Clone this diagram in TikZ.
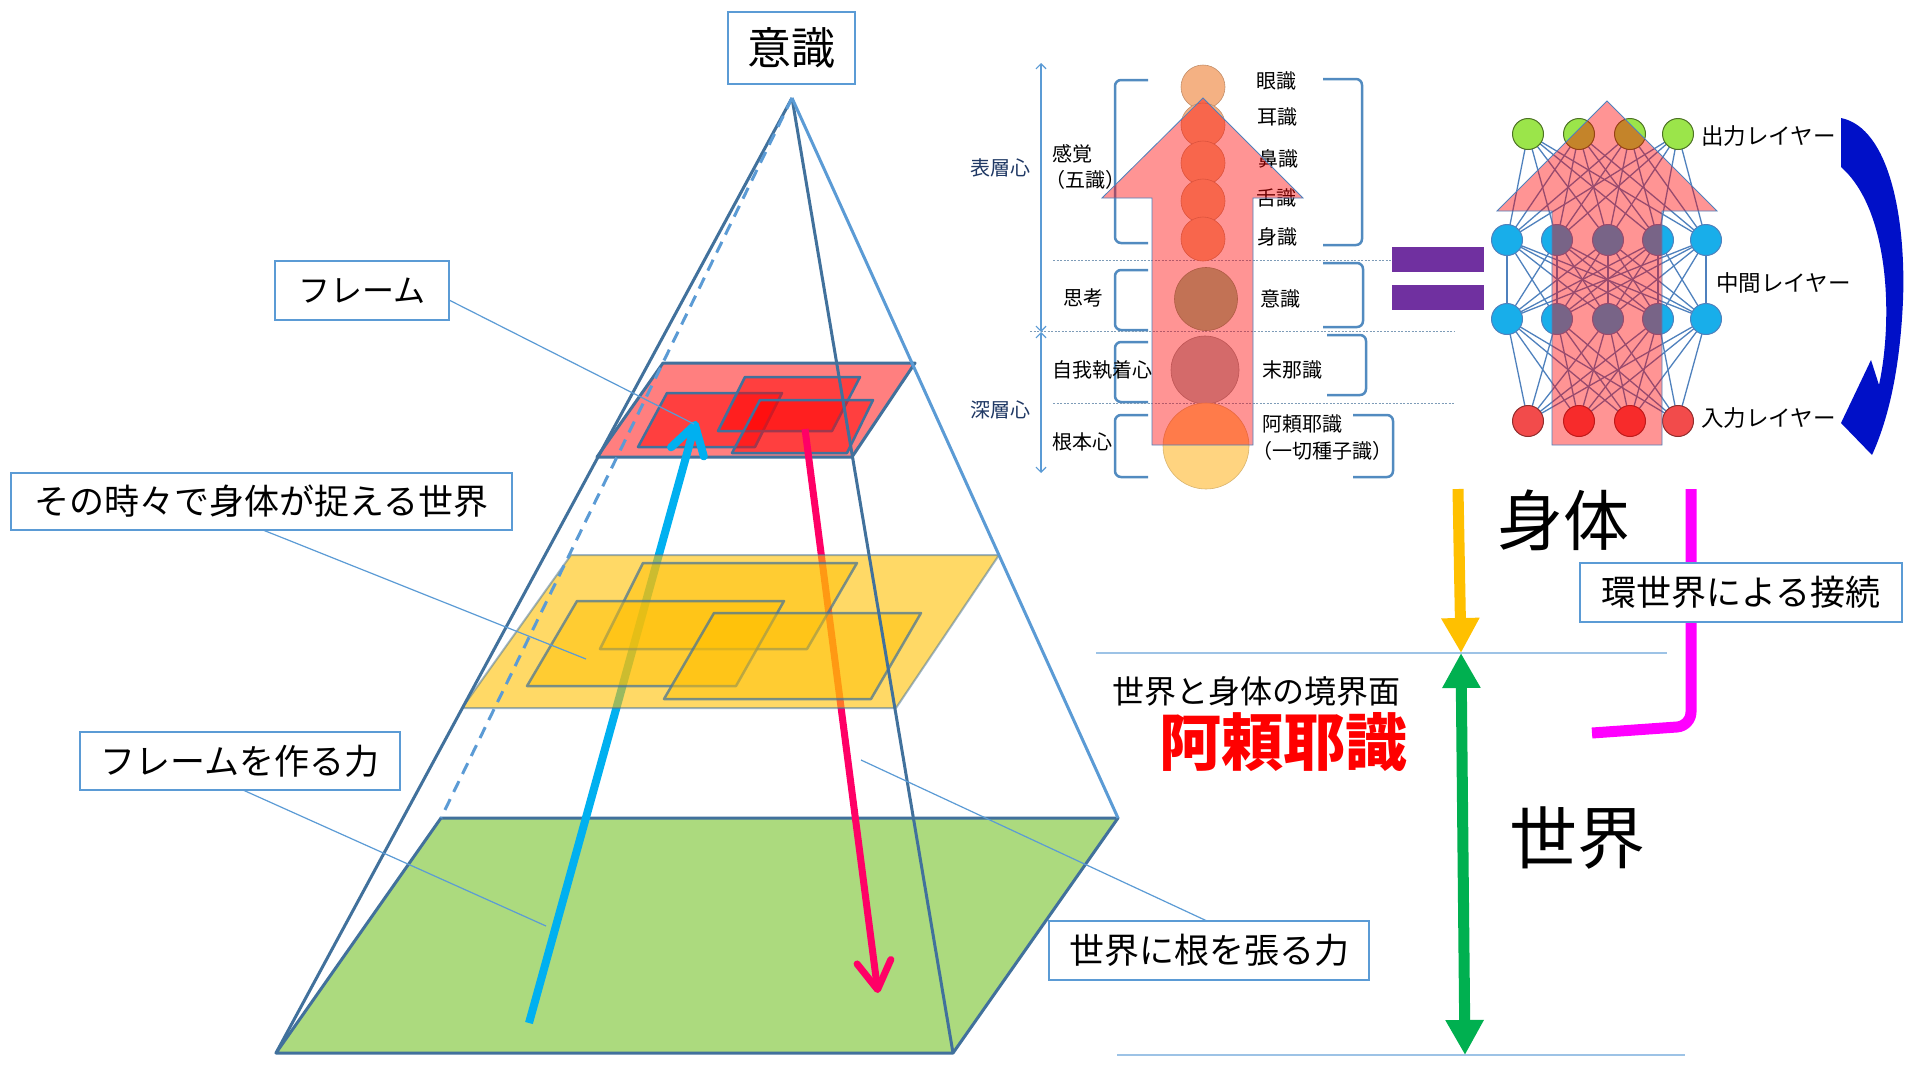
\documentclass[tikz,border=0pt]{standalone}
\usepackage{fontspec}
\setmainfont{Noto Sans CJK JP}
\usetikzlibrary{arrows.meta}

\definecolor{edgeblue}{HTML}{41719C}
\definecolor{lightblue}{HTML}{5B9BD5}
\definecolor{paleblue}{HTML}{9DC3E6}
\definecolor{planegreen}{HTML}{ACDA7E}
\definecolor{planeyellow}{HTML}{FFC000}
\definecolor{riseblue}{HTML}{00B0F0}
\definecolor{rootpink}{HTML}{FF0066}
\definecolor{worldgreen}{HTML}{00B050}
\definecolor{umwelt}{HTML}{FF00FF}
\definecolor{eqpurple}{HTML}{7030A0}
\definecolor{navy}{HTML}{1F3864}
\definecolor{netblue}{HTML}{4F81BD}
\definecolor{curvblue}{HTML}{0010C8}
\definecolor{sensepeach}{HTML}{F4B183}
\definecolor{thinkgreen}{HTML}{96C594}
\definecolor{egogrey}{HTML}{B5B7B7}
\definecolor{rootyellow}{HTML}{FFD480}
\definecolor{outgreen}{HTML}{9BE54A}
\definecolor{hidcyan}{HTML}{18AEEA}
\definecolor{inred}{HTML}{F24B4B}

\tikzset{
  txt/.style={font=\fontsize{#1}{#1}\selectfont},
  callout/.style={draw=lightblue, line width=2, fill=white, inner sep=0pt, txt=#1},
  leader/.style={draw=lightblue, line width=1.2},
  plane/.style={draw=edgeblue, line width=3, line join=round},
  edge/.style={draw=edgeblue, line width=3},
  lbl/.style={inner sep=0pt, anchor=west, txt=20},
  bracket/.style={draw=lightblue!90!black, line width=2.5, rounded corners=6},
  dotline/.style={draw=paleblue!80!black, line width=0.9, dash pattern=on 2pt off 1.5pt},
  flow/.style={fill=red, fill opacity=0.42, draw=netblue, line width=0.8},
  sense/.style={circle, inner sep=0pt, minimum size=#1, line width=0.6},
  neuron/.style={circle, inner sep=0pt, minimum size=31, line width=1},
  netedge/.style={draw=netblue, line width=1.3},
}

\begin{document}
\begin{tikzpicture}[x=1pt,y=-1pt]
\useasboundingbox (0,0) rectangle (1920,1080);
\fill[white] (0,0) rectangle (1920,1080);

% pyramid corners
\coordinate (apex) at (792,98);
\coordinate (gbl) at (276,1053);
\coordinate (gbr) at (953,1053);
\coordinate (gtr) at (1118,818);
\coordinate (gtl) at (441,818);

\filldraw[plane, fill=planegreen] (gbl) -- (gbr) -- (gtr) -- (gtl) -- cycle;

% frame plane
\filldraw[plane, fill=red, fill opacity=0.5] (597,457) -- (852,457) -- (915,363) -- (663,363) -- cycle;
\filldraw[plane, line width=2.5, fill=red, fill opacity=0.5] (638,447) -- (755,447) -- (782,393) -- (667,393) -- cycle;
\filldraw[plane, line width=2.5, fill=red, fill opacity=0.5] (718,431) -- (832,431) -- (860,377) -- (745,377) -- cycle;
\filldraw[plane, line width=2.5, fill=red, fill opacity=0.5] (732,453) -- (847,453) -- (873,400) -- (760,400) -- cycle;

% the two forces
\coordinate (riseTail) at (529,1023);
\coordinate (riseTip) at (696,421);
\coordinate (rootTail) at (805,429);
\coordinate (rootTip) at (878,993);
\draw[riseblue, line width=8, -{Straight Barb[length=28pt,width=34pt,round]}] (riseTail) -- (riseTip);
\draw[rootpink, line width=7, -{Straight Barb[length=28pt,width=34pt,round]}] (rootTail) -- (rootTip);

% world the body grasps
\filldraw[plane, line width=2, draw opacity=0.5, fill=planeyellow, fill opacity=0.6] (462,708) -- (896,708) -- (999,555) -- (571,555) -- cycle;
\filldraw[plane, line width=2.5, draw opacity=0.7, fill=planeyellow, fill opacity=0.5] (600,649) -- (807,649) -- (857,563) -- (643,563) -- cycle;
\filldraw[plane, line width=2.5, draw opacity=0.7, fill=planeyellow, fill opacity=0.5] (527,686) -- (736,686) -- (784,601) -- (577,601) -- cycle;
\filldraw[plane, line width=2.5, draw opacity=0.7, fill=planeyellow, fill opacity=0.5] (664,699) -- (871,699) -- (921,613) -- (714,613) -- cycle;

\draw[edge] (apex) -- (gbl);
\draw[edge] (apex) -- (gbr);
\draw[edge, lightblue] (apex) -- (gtr);
\draw[edge, lightblue, dash pattern=on 12pt off 8pt] (apex) -- (gtl);

% callouts
\node[callout=44, minimum width=127, minimum height=72] (conscious) at (791.5,48) {意識};

\coordinate (frameEnd) at (694,424);
\draw[leader] (449,300) -- (frameEnd);
\node[callout=32, minimum width=174, minimum height=59] (frame) at (362,290.5) {フレーム};

\coordinate (graspEnd) at (586,659);
\draw[leader] (263,530) -- (graspEnd);
\node[callout=35, minimum width=501, minimum height=57] (grasp) at (261.5,501.5) {その時々で身体が捉える世界};

\coordinate (makeEnd) at (546,926);
\draw[leader] (243,790) -- (makeEnd);
\node[callout=35, minimum width=320, minimum height=58] (makeframe) at (240,761) {フレームを作る力};

\coordinate (rootingEnd) at (861,760);
\draw[leader] (1207,921) -- (rootingEnd);
\node[callout=35, minimum width=320, minimum height=59] (rooting) at (1209,950.5) {世界に根を張る力};

% body / world
\draw[paleblue, line width=1.3] (1096,653) -- (1667,653);
\draw[paleblue, line width=1.3] (1117,1055) -- (1685,1055);
\coordinate (bodyTop) at (1458,489);
\coordinate (iface) at (1461,653);
\coordinate (worldBot) at (1465,1055);
\draw[planeyellow, line width=11, -{Triangle[length=35pt,width=36pt]}] (bodyTop) -- (iface);
\draw[worldgreen, line width=11, {Triangle[length=35pt,width=36pt]}-{Triangle[length=35pt,width=36pt]}] (iface) -- (worldBot);
\node[txt=66] (body) at (1563,520) {身体};
\node[txt=68] (world) at (1577,838) {世界};
\node[txt=32] (boundary) at (1256,691) {世界と身体の境界面};
\node[txt=62, text=red] (alaya) at (1283,742) {\bfseries 阿頼耶識};

\draw[umwelt, line width=11, rounded corners=14] (1691,489) -- (1691,726) -- (1592,733);
\node[callout=35, minimum width=322, minimum height=59] (umweltBox) at (1741,592.5) {環世界による接続};

% eight consciousnesses
\draw[bracket] (1148,80) -- (1115,80) -- (1115,243) -- (1148,243);
\draw[bracket] (1148,270) -- (1115,270) -- (1115,330) -- (1148,330);
\draw[bracket] (1148,342) -- (1115,342) -- (1115,402) -- (1148,402);
\draw[bracket] (1148,415) -- (1115,415) -- (1115,477) -- (1148,477);
\draw[bracket] (1323,79) -- (1362,79) -- (1362,245) -- (1323,245);
\draw[bracket] (1323,263) -- (1363,263) -- (1363,327) -- (1323,327);
\draw[bracket] (1327,335) -- (1366,335) -- (1366,395) -- (1327,395);
\draw[bracket] (1353,415) -- (1393,415) -- (1393,477) -- (1353,477);

\draw[dotline] (1053,260) -- (1392,260);
\draw[dotline] (1030,331) -- (1454,331);
\draw[dotline] (1053,403) -- (1454,403);

\coordinate (surfTop) at (1041,63);
\coordinate (layerCut) at (1041,332);
\coordinate (deepBot) at (1041,473);
\draw[lightblue, line width=1.2, {Straight Barb[length=5pt,width=10pt]}-{Straight Barb[length=5pt,width=10pt]}] (surfTop) -- (layerCut);
\draw[lightblue, line width=1.2, {Straight Barb[length=5pt,width=10pt]}-{Straight Barb[length=5pt,width=10pt]}] (layerCut) -- (deepBot);

\node[txt=20, text=navy] (surface) at (1000,168) {表層心};
\node[txt=20, text=navy] (deep) at (1000,410) {深層心};
\node[lbl] (sensation) at (1052,154) {感覚};
\node[lbl] (fivesense) at (1045,180) {（五識）};
\node[lbl] (thinking) at (1063,298) {思考};
\node[lbl] (ego) at (1052,370) {自我執着心};
\node[lbl] (rootmind) at (1052,442) {根本心};
\node[lbl] (eyeL) at (1256,81) {眼識};
\node[lbl] (earL) at (1257,117) {耳識};
\node[lbl] (noseL) at (1258,159) {鼻識};
\node[lbl] (tongueL) at (1256,198) {舌識};
\node[lbl] (skinL) at (1257,237) {身識};
\node[lbl] (mindL) at (1260,299) {意識};
\node[lbl] (manasL) at (1262,370) {末那識};
\node[lbl] (alayaL) at (1262,424) {阿頼耶識};
\node[lbl] (seedL) at (1252,451) {（一切種子識）};

\node[sense=44, fill=sensepeach, draw=sensepeach!80!black] (eyeC) at (1203,87) {};
\foreach \n/\y in {ear/125, nose/163, tongue/201, skin/239}
  \node[sense=44, fill=sensepeach, draw=sensepeach!80!black] (\n C) at (1203,\y) {};
\node[sense=63, fill=thinkgreen, draw=thinkgreen!80!black] (mindC) at (1206,299) {};
\node[sense=68, fill=egogrey, draw=egogrey!80!black] (manasC) at (1205,370) {};
\node[sense=86, fill=rootyellow, draw=rootyellow!85!black] (alayaC) at (1206,446) {};

\filldraw[flow] (1203,98) -- (1303,198) -- (1253,198) -- (1253,445) -- (1152,445) -- (1152,198) -- (1102,198) -- cycle;

% equals
\fill[eqpurple] (1392,247) rectangle (1484,272);
\fill[eqpurple] (1392,285) rectangle (1484,310);

% network
\foreach \i/\x in {1/1528, 2/1579, 3/1630, 4/1678} {
  \coordinate (o\i) at (\x,134);
  \coordinate (n\i) at (\x,421);
}
\foreach \i/\x in {1/1507, 2/1557, 3/1608, 4/1658, 5/1706} {
  \coordinate (h\i) at (\x,240);
  \coordinate (g\i) at (\x,319);
}
\foreach \i in {1,...,4}
  \foreach \j in {1,...,5} {
    \draw[netedge] (o\i) -- (h\j);
    \draw[netedge] (n\i) -- (g\j);
  }
\foreach \i in {1,...,5}
  \foreach \j in {1,...,5}
    \draw[netedge] (h\i) -- (g\j);
\foreach \i in {1,...,4} {
  \node[neuron, fill=outgreen, draw=outgreen!50!black] (O\i) at (o\i) {};
  \node[neuron, fill=inred, draw=inred!60!black] (N\i) at (n\i) {};
}
\foreach \i in {1,...,5} {
  \node[neuron, fill=hidcyan, draw=netblue] (H\i) at (h\i) {};
  \node[neuron, fill=hidcyan, draw=netblue] (G\i) at (g\i) {};
}
\filldraw[flow] (1607,101) -- (1717,211) -- (1662,211) -- (1662,445) -- (1552,445) -- (1552,211) -- (1497,211) -- cycle;

\node[lbl, txt=22.5] (outL) at (1701,136) {出力レイヤー};
\node[lbl, txt=22.5] (midL) at (1716,283) {中間レイヤー};
\node[lbl, txt=22.5] (inL) at (1701,418) {入力レイヤー};

% feedback
\fill[curvblue] (1841,118) .. controls (1890,128) and (1906,220) .. (1903,300)
  .. controls (1900,370) and (1888,420) .. (1872,455) -- (1841,423) -- (1871,360) -- (1879,385)
  .. controls (1893,320) and (1890,210) .. (1841,167) -- cycle;
\end{tikzpicture}
\end{document}
